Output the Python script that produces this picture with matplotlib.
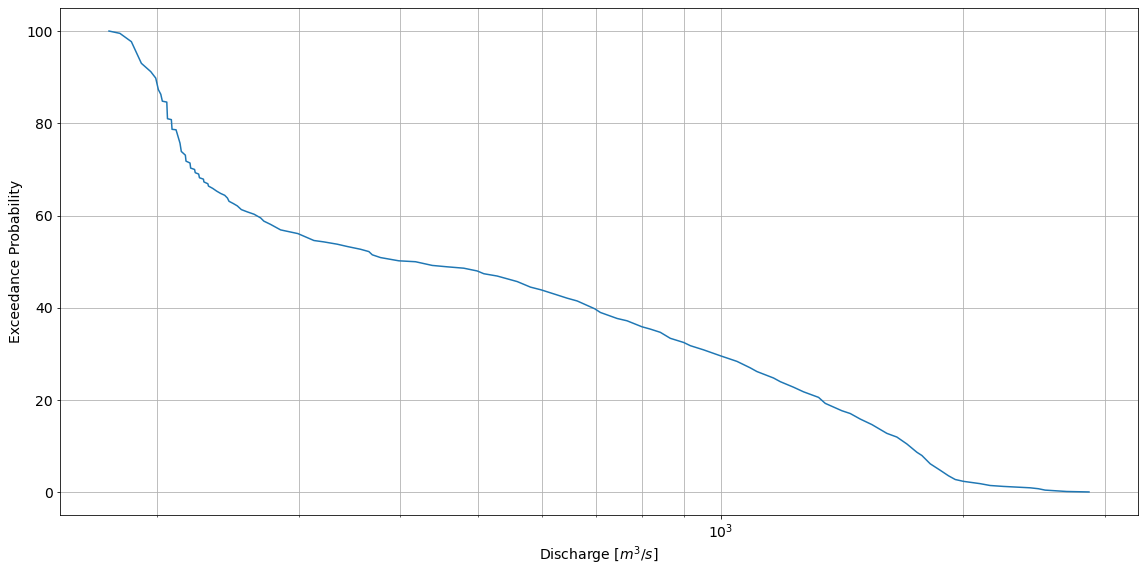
import matplotlib
matplotlib.use("Agg")
import matplotlib.pyplot as plt

# flow duration curve
discharge = [
    174.5, 180.0, 186.0, 191.4, 196.6, 199.4, 200.9, 202.3, 203.2, 205.8,
    206.2, 208.5, 208.9, 211.3, 213.7, 214.5, 217.0, 217.4, 219.9, 220.3,
    222.8, 223.2, 225.4, 225.9, 228.5, 228.8, 231.4, 231.8, 234.6, 237.3,
    240.0, 242.8, 244.7, 245.8, 248.9, 251.7, 254.6, 259.0, 264.0, 269.0,
    271.5, 276.7, 284.8, 299.2, 313.2, 322.2, 334.8, 344.5, 357.8, 366.4,
    370.0, 378.8, 399.1, 418.6, 439.0, 458.1, 480.4, 499.2, 508.7, 528.5,
    559.6, 581.1, 599.2, 627.1, 645.3, 664.0, 698.2, 709.6, 744.3, 765.6,
    799.0, 818.2, 841.9, 866.3, 900.0, 917.4, 952.6, 1000.0, 1047.9, 1088.3,
    1109.2, 1163.1, 1185.9, 1231.6, 1267.3, 1322.7, 1348.2, 1413.9, 1447.9, 1489.8,
    1540.3, 1607.4, 1654.0, 1702.0, 1751.4, 1776.6, 1819.2, 1871.9, 1916.8, 1953.8,
    2000.0, 2097.5, 2158.3, 2241.9, 2419.4, 2477.4, 2525.2, 2686.0, 2862.4,
]
exceedance = [
    100.0, 99.5, 97.7, 93.0, 91.2, 89.8, 87.3, 86.3, 84.8, 84.6,
    81.0, 80.8, 78.7, 78.6, 75.7, 73.9, 73.1, 71.8, 71.4, 70.3,
    70.0, 69.3, 69.0, 68.2, 67.9, 67.3, 66.9, 66.4, 65.9, 65.3,
    64.8, 64.4, 63.8, 63.1, 62.6, 62.1, 61.3, 60.8, 60.3, 59.5,
    58.8, 58.1, 56.9, 56.1, 54.6, 54.3, 53.8, 53.3, 52.7, 52.2,
    51.5, 50.9, 50.2, 50.0, 49.2, 48.9, 48.6, 48.0, 47.4, 46.9,
    45.7, 44.5, 43.9, 42.8, 42.1, 41.5, 39.8, 39.0, 37.7, 37.2,
    35.9, 35.4, 34.7, 33.4, 32.5, 31.8, 30.9, 29.6, 28.4, 27.0,
    26.2, 24.8, 24.0, 22.8, 21.8, 20.6, 19.3, 17.7, 17.1, 15.9,
    14.7, 12.8, 12.0, 10.5, 8.7, 8.0, 6.2, 4.8, 3.6, 2.8,
    2.4, 1.9, 1.5, 1.3, 1.0, 0.8, 0.5, 0.2, 0.1,
]

plt.rcParams['font.size'] = 14

fig = plt.figure(figsize=(1144 / 72, 573 / 72), dpi=72)
ax = fig.add_axes([60 / 1144, 58 / 573, 1078 / 1144, 507 / 573])

ax.plot(discharge, exceedance, color='tab:blue')
ax.set_xscale('log')
ax.grid(True, which='both')
ax.set_xlabel('Discharge [$m^3/s$]')
ax.set_ylabel('Exceedance Probability')

fig.savefig('out.png', dpi=72)
